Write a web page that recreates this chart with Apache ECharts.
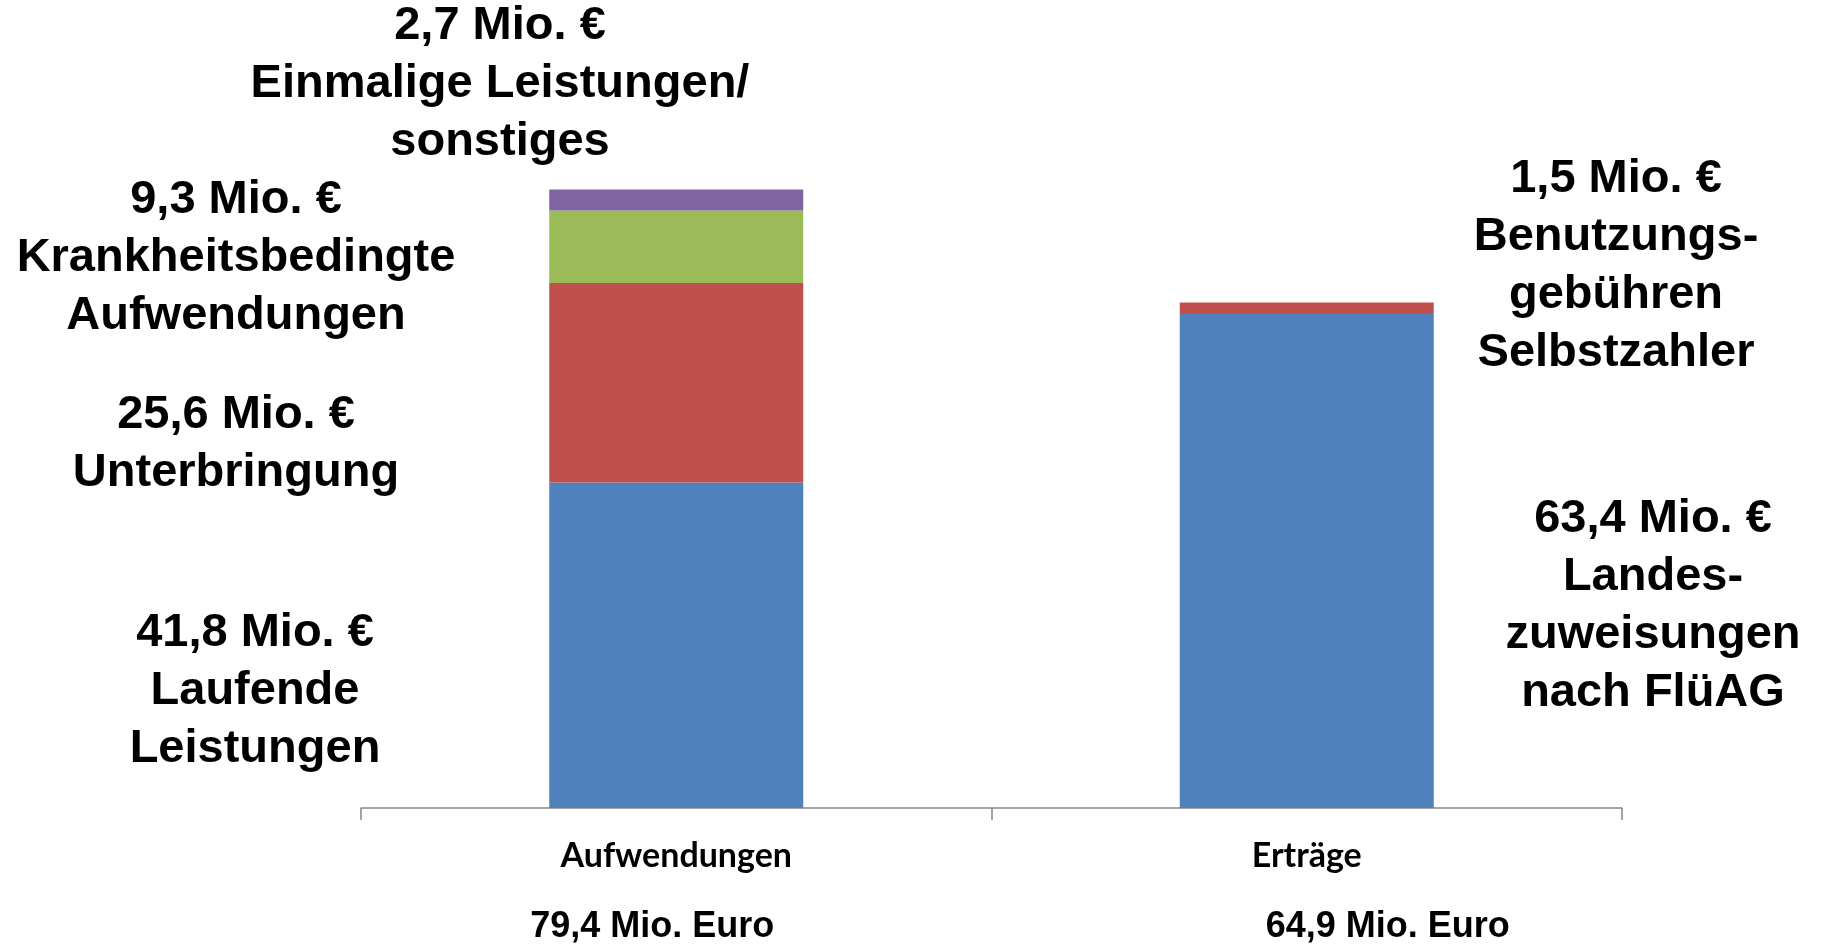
<!DOCTYPE html>
<html>
<head>
<meta charset="utf-8">
<script src="https://cdn.jsdelivr.net/npm/echarts@6/dist/echarts.min.js"></script>
<style>
  html, body { margin: 0; padding: 0; background: #fff; }
  #chart { width: 1825px; height: 945px; }
</style>
</head>
<body>
<div id="chart"></div>
<script>
// Kategorien
const categories = ['Aufwendungen', 'Erträge'];

// Werte in Mio. €
const blau = [41.8, 63.4];   // Laufende Leistungen / Landeszuweisungen
const rot = [25.6, 1.5];     // Unterbringung / Benutzungsgebühren
const gruen = [9.3, null];   // Krankheitsbedingte Aufwendungen
const lila = [2.7, null];    // Einmalige Leistungen/sonstiges

// Beschriftungen
const namesLeft = ['Laufende\nLeistungen', 'Unterbringung', 'Krankheitsbedingte\nAufwendungen', 'Einmalige Leistungen/\nsonstiges'];
const namesRight = ['Landes-\nzuweisungen\nnach FlüAG', 'Benutzungs-\ngebühren\nSelbstzahler'];

const fmt = (v) => v.toFixed(1).replace('.', ',');
const totals = categories.map((_, i) =>
  [blau, rot, gruen, lila].reduce((s, arr) => s + (arr[i] || 0), 0)
);

const chart = echarts.init(document.getElementById('chart'));

const labelFont = "'Liberation Sans', Arial, sans-serif";
const catFont = "Lato, 'Liberation Sans', sans-serif";

const annot = (text, x, y) => ({
  type: 'text',
  x: x,
  y: y,
  style: {
    text: text,
    fill: '#000',
    font: 'bold 47px ' + labelFont,
    lineHeight: 58,
    align: 'center',
    verticalAlign: 'middle'
  }
});

const option = {
  animation: false,
  grid: { left: 361, right: 203, top: 29, bottom: 136 },
  xAxis: {
    type: 'category',
    data: categories,
    axisLine: { lineStyle: { color: '#868686', width: 1.5 } },
    axisTick: { show: true, length: 12, lineStyle: { color: '#868686', width: 1.5 } },
    axisLabel: {
      margin: 8,
      color: '#000',
      formatter: (val, idx) =>
        '{a|' + val + '}\n{' + (idx === 1 ? 'c' : 'b') + '|' + fmt(totals[idx]) + ' Mio. Euro}',
      rich: {
        a: { fontFamily: catFont, fontWeight: 'bold', fontSize: 34, lineHeight: 80 },
        b: { fontFamily: labelFont, fontWeight: 'bold', fontSize: 36, lineHeight: 62, padding: [0, 48, 0, 0] },
        c: { fontFamily: labelFont, fontWeight: 'bold', fontSize: 36, lineHeight: 62, padding: [0, 0, 0, 162] }
      }
    }
  },
  yAxis: {
    type: 'value',
    min: 0,
    max: 100,
    show: false,
    splitLine: { show: false }
  },
  series: [
    { name: 'blau', type: 'bar', stack: 'a', barWidth: 254, data: blau, itemStyle: { color: '#4F81BD' } },
    { name: 'rot', type: 'bar', stack: 'a', barWidth: 254, data: rot, itemStyle: { color: '#C0504D' } },
    { name: 'gruen', type: 'bar', stack: 'a', barWidth: 254, data: gruen, itemStyle: { color: '#9BBB59' } },
    { name: 'lila', type: 'bar', stack: 'a', barWidth: 254, data: lila, itemStyle: { color: '#8064A2' } }
  ],
  graphic: [
    annot(fmt(lila[0]) + ' Mio. €\n' + namesLeft[3], 500, 84),
    annot(fmt(gruen[0]) + ' Mio. €\n' + namesLeft[2], 236, 258),
    annot(fmt(rot[0]) + ' Mio. €\n' + namesLeft[1], 236, 444),
    annot(fmt(blau[0]) + ' Mio. €\n' + namesLeft[0], 255, 691),
    annot(fmt(rot[1]) + ' Mio. €\n' + namesRight[1], 1616, 266),
    annot(fmt(blau[1]) + ' Mio. €\n' + namesRight[0], 1653, 606)
  ]
};

chart.setOption(option);
window.addEventListener('resize', () => chart.resize());
</script>
</body>
</html>
